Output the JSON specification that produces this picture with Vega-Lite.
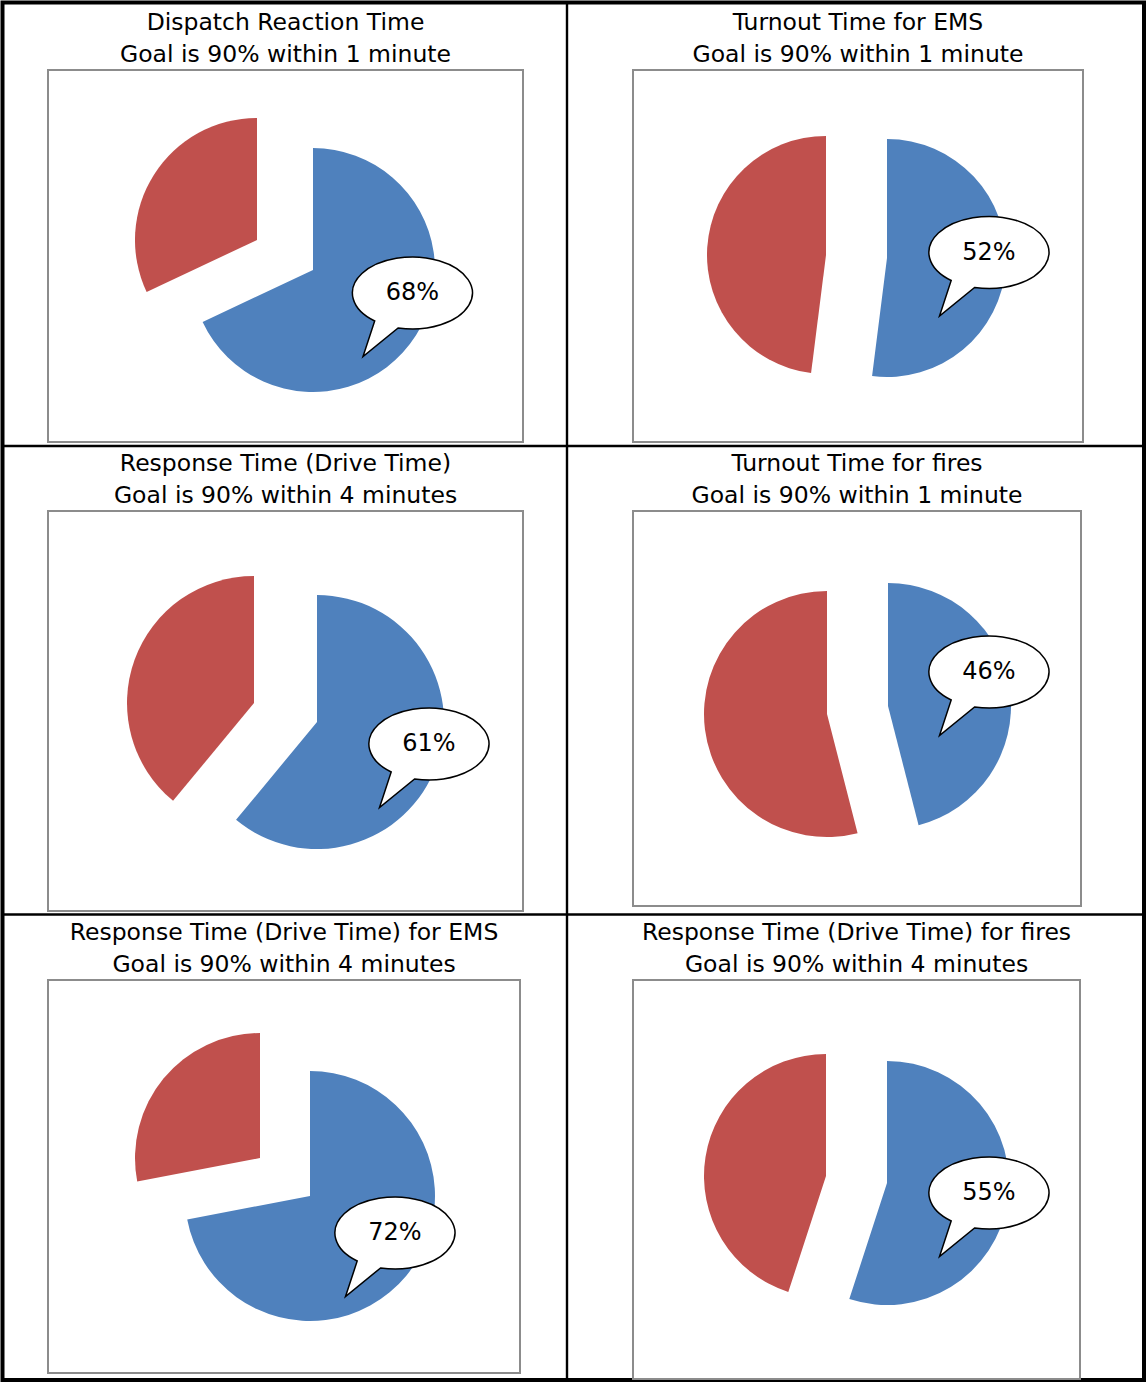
{
  "$schema": "https://vega.github.io/schema/vega-lite/v6.json",
  "padding": 0,
  "background": "white",
  "config": {
    "view": {"stroke": null},
    "title": {"font": "DejaVu Sans", "fontSize": 23.5, "fontWeight": "normal", "color": "black", "anchor": "middle", "frame": "group", "lineHeight": 32, "offset": 3, "baseline": "alphabetic"}
  },
  "datasets": {
    "pies": [
      {"chart": "Dispatch Reaction Time", "status": "Within goal", "share": 0.68},
      {"chart": "Dispatch Reaction Time", "status": "Not within goal", "share": 0.32},
      {"chart": "Turnout Time for EMS", "status": "Within goal", "share": 0.52},
      {"chart": "Turnout Time for EMS", "status": "Not within goal", "share": 0.48},
      {"chart": "Response Time (Drive Time)", "status": "Within goal", "share": 0.61},
      {"chart": "Response Time (Drive Time)", "status": "Not within goal", "share": 0.39},
      {"chart": "Turnout Time for fires", "status": "Within goal", "share": 0.46},
      {"chart": "Turnout Time for fires", "status": "Not within goal", "share": 0.54},
      {"chart": "Response Time (Drive Time) for EMS", "status": "Within goal", "share": 0.72},
      {"chart": "Response Time (Drive Time) for EMS", "status": "Not within goal", "share": 0.28},
      {"chart": "Response Time (Drive Time) for fires", "status": "Within goal", "share": 0.55},
      {"chart": "Response Time (Drive Time) for fires", "status": "Not within goal", "share": 0.45}
    ]
  },
  "bounds": "flush",
  "columns": 2,
  "spacing": {"row": 69, "column": 110},
  "concat": [
    {
      "width": 475, "height": 372,
      "title": {"text": ["Dispatch Reaction Time", "Goal is 90% within 1 minute"], "offset": -65.5},
      "data": {"name": "pies"},
      "transform": [
        {"filter": {"field": "chart", "equal": "Dispatch Reaction Time"}},
        {"stack": "share", "groupby": ["chart"], "sort": [{"field": "status", "order": "descending"}], "as": ["start", "end"]}
      ],
      "layer": [
        {"transform": [{"filter": {"field": "status", "equal": "Within goal"}}],
         "mark": {"type": "rect", "x": -45.5, "x2": 1096, "y": -67.5, "y2": 1310, "fillOpacity": 0, "stroke": "black", "strokeWidth": 4}, "encoding": {}},
        {"transform": [{"filter": {"field": "status", "equal": "Within goal"}}],
         "mark": {"type": "rect", "x": 517.8, "x2": 520.2, "y": -67.5, "y2": 1310, "color": "black"}, "encoding": {}},
        {"transform": [{"filter": {"field": "status", "equal": "Within goal"}}],
         "mark": {"type": "rect", "x": -45.5, "x2": 1096, "y": 374.8, "y2": 377.2, "color": "black"}, "encoding": {}},
        {"transform": [{"filter": {"field": "status", "equal": "Within goal"}}],
         "mark": {"type": "rect", "x": -45.5, "x2": 1096, "y": 843.3, "y2": 845.7, "color": "black"}, "encoding": {}},
        {"transform": [{"filter": {"field": "status", "equal": "Within goal"}}],
         "mark": {"type": "rect", "x": 0, "x2": "width", "y": 0, "y2": "height", "fillOpacity": 0, "stroke": "#8c8c8c", "strokeWidth": 2}, "encoding": {}},
        {"transform": [{"filter": {"field": "status", "equal": "Within goal"}}],
         "mark": {"type": "arc", "radius": 122, "xOffset": 27.5, "yOffset": 14},
         "encoding": {"theta": {"field": "start", "type": "quantitative", "scale": {"domain": [0, 1]}, "stack": null}, "theta2": {"field": "end"},
           "color": {"field": "status", "type": "nominal", "scale": {"domain": ["Within goal", "Not within goal"], "range": ["#4F81BD", "#C0504D"]}, "legend": null}}},
        {"transform": [{"filter": {"field": "status", "equal": "Not within goal"}}],
         "mark": {"type": "arc", "radius": 122, "xOffset": -28.5, "yOffset": -16},
         "encoding": {"theta": {"field": "start", "type": "quantitative", "scale": {"domain": [0, 1]}, "stack": null}, "theta2": {"field": "end"},
           "color": {"field": "status", "type": "nominal", "scale": {"domain": ["Within goal", "Not within goal"], "range": ["#4F81BD", "#C0504D"]}, "legend": null}}},
        {"transform": [{"filter": {"field": "status", "equal": "Within goal"}}],
         "mark": {"type": "point", "shape": "M -0.24 0.582 A 1 0.6 0 1 0 -0.63 0.466 L -0.825 1.06 Z", "size": 14400, "filled": true, "fill": "white", "stroke": "black", "strokeWidth": 1.5, "opacity": 1, "xOffset": 127, "yOffset": 37}, "encoding": {}},
        {"transform": [{"filter": {"field": "status", "equal": "Within goal"}}],
         "mark": {"type": "text", "font": "DejaVu Sans", "fontSize": 24, "align": "center", "baseline": "middle", "color": "black", "xOffset": 127, "yOffset": 37},
         "encoding": {"text": {"field": "share", "type": "quantitative", "format": ".0%"}}}
      ]
    },
    {
      "width": 450, "height": 372,
      "title": {"text": ["Turnout Time for EMS", "Goal is 90% within 1 minute"]},
      "data": {"name": "pies"},
      "transform": [
        {"filter": {"field": "chart", "equal": "Turnout Time for EMS"}},
        {"stack": "share", "groupby": ["chart"], "sort": [{"field": "status", "order": "descending"}], "as": ["start", "end"]}
      ],
      "layer": [
        {"transform": [{"filter": {"field": "status", "equal": "Within goal"}}],
         "mark": {"type": "rect", "x": 0, "x2": "width", "y": 0, "y2": "height", "fillOpacity": 0, "stroke": "#8c8c8c", "strokeWidth": 2}, "encoding": {}},
        {"transform": [{"filter": {"field": "status", "equal": "Within goal"}}],
         "mark": {"type": "arc", "radius": 119, "xOffset": 29, "yOffset": 2},
         "encoding": {"theta": {"field": "start", "type": "quantitative", "scale": {"domain": [0, 1]}, "stack": null}, "theta2": {"field": "end"},
           "color": {"field": "status", "type": "nominal", "scale": {"domain": ["Within goal", "Not within goal"], "range": ["#4F81BD", "#C0504D"]}, "legend": null}}},
        {"transform": [{"filter": {"field": "status", "equal": "Not within goal"}}],
         "mark": {"type": "arc", "radius": 119, "xOffset": -32, "yOffset": -1},
         "encoding": {"theta": {"field": "start", "type": "quantitative", "scale": {"domain": [0, 1]}, "stack": null}, "theta2": {"field": "end"},
           "color": {"field": "status", "type": "nominal", "scale": {"domain": ["Within goal", "Not within goal"], "range": ["#4F81BD", "#C0504D"]}, "legend": null}}},
        {"transform": [{"filter": {"field": "status", "equal": "Within goal"}}],
         "mark": {"type": "point", "shape": "M -0.24 0.582 A 1 0.6 0 1 0 -0.63 0.466 L -0.825 1.06 Z", "size": 14400, "filled": true, "fill": "white", "stroke": "black", "strokeWidth": 1.5, "opacity": 1, "xOffset": 131, "yOffset": -3.5}, "encoding": {}},
        {"transform": [{"filter": {"field": "status", "equal": "Within goal"}}],
         "mark": {"type": "text", "font": "DejaVu Sans", "fontSize": 24, "align": "center", "baseline": "middle", "color": "black", "xOffset": 131, "yOffset": -3.5},
         "encoding": {"text": {"field": "share", "type": "quantitative", "format": ".0%"}}}
      ]
    },
    {
      "width": 475, "height": 400,
      "title": {"text": ["Response Time (Drive Time)", "Goal is 90% within 4 minutes"]},
      "data": {"name": "pies"},
      "transform": [
        {"filter": {"field": "chart", "equal": "Response Time (Drive Time)"}},
        {"stack": "share", "groupby": ["chart"], "sort": [{"field": "status", "order": "descending"}], "as": ["start", "end"]}
      ],
      "layer": [
        {"transform": [{"filter": {"field": "status", "equal": "Within goal"}}],
         "mark": {"type": "rect", "x": 0, "x2": "width", "y": 0, "y2": "height", "fillOpacity": 0, "stroke": "#8c8c8c", "strokeWidth": 2}, "encoding": {}},
        {"transform": [{"filter": {"field": "status", "equal": "Within goal"}}],
         "mark": {"type": "arc", "radius": 127, "xOffset": 31.5, "yOffset": 11},
         "encoding": {"theta": {"field": "start", "type": "quantitative", "scale": {"domain": [0, 1]}, "stack": null}, "theta2": {"field": "end"},
           "color": {"field": "status", "type": "nominal", "scale": {"domain": ["Within goal", "Not within goal"], "range": ["#4F81BD", "#C0504D"]}, "legend": null}}},
        {"transform": [{"filter": {"field": "status", "equal": "Not within goal"}}],
         "mark": {"type": "arc", "radius": 127, "xOffset": -31.5, "yOffset": -8},
         "encoding": {"theta": {"field": "start", "type": "quantitative", "scale": {"domain": [0, 1]}, "stack": null}, "theta2": {"field": "end"},
           "color": {"field": "status", "type": "nominal", "scale": {"domain": ["Within goal", "Not within goal"], "range": ["#4F81BD", "#C0504D"]}, "legend": null}}},
        {"transform": [{"filter": {"field": "status", "equal": "Within goal"}}],
         "mark": {"type": "point", "shape": "M -0.24 0.582 A 1 0.6 0 1 0 -0.63 0.466 L -0.825 1.06 Z", "size": 14400, "filled": true, "fill": "white", "stroke": "black", "strokeWidth": 1.5, "opacity": 1, "xOffset": 143.5, "yOffset": 33}, "encoding": {}},
        {"transform": [{"filter": {"field": "status", "equal": "Within goal"}}],
         "mark": {"type": "text", "font": "DejaVu Sans", "fontSize": 24, "align": "center", "baseline": "middle", "color": "black", "xOffset": 143.5, "yOffset": 33},
         "encoding": {"text": {"field": "share", "type": "quantitative", "format": ".0%"}}}
      ]
    },
    {
      "width": 448, "height": 395,
      "title": {"text": ["Turnout Time for fires", "Goal is 90% within 1 minute"]},
      "data": {"name": "pies"},
      "transform": [
        {"filter": {"field": "chart", "equal": "Turnout Time for fires"}},
        {"stack": "share", "groupby": ["chart"], "sort": [{"field": "status", "order": "descending"}], "as": ["start", "end"]}
      ],
      "layer": [
        {"transform": [{"filter": {"field": "status", "equal": "Within goal"}}],
         "mark": {"type": "rect", "x": 0, "x2": "width", "y": 0, "y2": "height", "fillOpacity": 0, "stroke": "#8c8c8c", "strokeWidth": 2}, "encoding": {}},
        {"transform": [{"filter": {"field": "status", "equal": "Within goal"}}],
         "mark": {"type": "arc", "radius": 123, "xOffset": 31, "yOffset": -2.5},
         "encoding": {"theta": {"field": "start", "type": "quantitative", "scale": {"domain": [0, 1]}, "stack": null}, "theta2": {"field": "end"},
           "color": {"field": "status", "type": "nominal", "scale": {"domain": ["Within goal", "Not within goal"], "range": ["#4F81BD", "#C0504D"]}, "legend": null}}},
        {"transform": [{"filter": {"field": "status", "equal": "Not within goal"}}],
         "mark": {"type": "arc", "radius": 123, "xOffset": -30, "yOffset": 5.5},
         "encoding": {"theta": {"field": "start", "type": "quantitative", "scale": {"domain": [0, 1]}, "stack": null}, "theta2": {"field": "end"},
           "color": {"field": "status", "type": "nominal", "scale": {"domain": ["Within goal", "Not within goal"], "range": ["#4F81BD", "#C0504D"]}, "legend": null}}},
        {"transform": [{"filter": {"field": "status", "equal": "Within goal"}}],
         "mark": {"type": "point", "shape": "M -0.24 0.582 A 1 0.6 0 1 0 -0.63 0.466 L -0.825 1.06 Z", "size": 14400, "filled": true, "fill": "white", "stroke": "black", "strokeWidth": 1.5, "opacity": 1, "xOffset": 132, "yOffset": -36.5}, "encoding": {}},
        {"transform": [{"filter": {"field": "status", "equal": "Within goal"}}],
         "mark": {"type": "text", "font": "DejaVu Sans", "fontSize": 24, "align": "center", "baseline": "middle", "color": "black", "xOffset": 132, "yOffset": -36.5},
         "encoding": {"text": {"field": "share", "type": "quantitative", "format": ".0%"}}}
      ]
    },
    {
      "width": 472, "height": 393,
      "title": {"text": ["Response Time (Drive Time) for EMS", "Goal is 90% within 4 minutes"]},
      "data": {"name": "pies"},
      "transform": [
        {"filter": {"field": "chart", "equal": "Response Time (Drive Time) for EMS"}},
        {"stack": "share", "groupby": ["chart"], "sort": [{"field": "status", "order": "descending"}], "as": ["start", "end"]}
      ],
      "layer": [
        {"transform": [{"filter": {"field": "status", "equal": "Within goal"}}],
         "mark": {"type": "rect", "x": 0, "x2": "width", "y": 0, "y2": "height", "fillOpacity": 0, "stroke": "#8c8c8c", "strokeWidth": 2}, "encoding": {}},
        {"transform": [{"filter": {"field": "status", "equal": "Within goal"}}],
         "mark": {"type": "arc", "radius": 125, "xOffset": 26, "yOffset": 19.5},
         "encoding": {"theta": {"field": "start", "type": "quantitative", "scale": {"domain": [0, 1]}, "stack": null}, "theta2": {"field": "end"},
           "color": {"field": "status", "type": "nominal", "scale": {"domain": ["Within goal", "Not within goal"], "range": ["#4F81BD", "#C0504D"]}, "legend": null}}},
        {"transform": [{"filter": {"field": "status", "equal": "Not within goal"}}],
         "mark": {"type": "arc", "radius": 125, "xOffset": -24, "yOffset": -18.5},
         "encoding": {"theta": {"field": "start", "type": "quantitative", "scale": {"domain": [0, 1]}, "stack": null}, "theta2": {"field": "end"},
           "color": {"field": "status", "type": "nominal", "scale": {"domain": ["Within goal", "Not within goal"], "range": ["#4F81BD", "#C0504D"]}, "legend": null}}},
        {"transform": [{"filter": {"field": "status", "equal": "Within goal"}}],
         "mark": {"type": "point", "shape": "M -0.24 0.582 A 1 0.6 0 1 0 -0.63 0.466 L -0.825 1.06 Z", "size": 14400, "filled": true, "fill": "white", "stroke": "black", "strokeWidth": 1.5, "opacity": 1, "xOffset": 111, "yOffset": 56.5}, "encoding": {}},
        {"transform": [{"filter": {"field": "status", "equal": "Within goal"}}],
         "mark": {"type": "text", "font": "DejaVu Sans", "fontSize": 24, "align": "center", "baseline": "middle", "color": "black", "xOffset": 111, "yOffset": 56.5},
         "encoding": {"text": {"field": "share", "type": "quantitative", "format": ".0%"}}}
      ]
    },
    {
      "width": 447, "height": 399,
      "title": {"text": ["Response Time (Drive Time) for fires", "Goal is 90% within 4 minutes"]},
      "data": {"name": "pies"},
      "transform": [
        {"filter": {"field": "chart", "equal": "Response Time (Drive Time) for fires"}},
        {"stack": "share", "groupby": ["chart"], "sort": [{"field": "status", "order": "descending"}], "as": ["start", "end"]}
      ],
      "layer": [
        {"transform": [{"filter": {"field": "status", "equal": "Within goal"}}],
         "mark": {"type": "rect", "x": 0, "x2": "width", "y": 0, "y2": "height", "fillOpacity": 0, "stroke": "#8c8c8c", "strokeWidth": 2}, "encoding": {}},
        {"transform": [{"filter": {"field": "status", "equal": "Within goal"}}],
         "mark": {"type": "arc", "radius": 122, "xOffset": 30.5, "yOffset": 3.5},
         "encoding": {"theta": {"field": "start", "type": "quantitative", "scale": {"domain": [0, 1]}, "stack": null}, "theta2": {"field": "end"},
           "color": {"field": "status", "type": "nominal", "scale": {"domain": ["Within goal", "Not within goal"], "range": ["#4F81BD", "#C0504D"]}, "legend": null}}},
        {"transform": [{"filter": {"field": "status", "equal": "Not within goal"}}],
         "mark": {"type": "arc", "radius": 122, "xOffset": -30.5, "yOffset": -3.5},
         "encoding": {"theta": {"field": "start", "type": "quantitative", "scale": {"domain": [0, 1]}, "stack": null}, "theta2": {"field": "end"},
           "color": {"field": "status", "type": "nominal", "scale": {"domain": ["Within goal", "Not within goal"], "range": ["#4F81BD", "#C0504D"]}, "legend": null}}},
        {"transform": [{"filter": {"field": "status", "equal": "Within goal"}}],
         "mark": {"type": "point", "shape": "M -0.24 0.582 A 1 0.6 0 1 0 -0.63 0.466 L -0.825 1.06 Z", "size": 14400, "filled": true, "fill": "white", "stroke": "black", "strokeWidth": 1.5, "opacity": 1, "xOffset": 132.5, "yOffset": 13.5}, "encoding": {}},
        {"transform": [{"filter": {"field": "status", "equal": "Within goal"}}],
         "mark": {"type": "text", "font": "DejaVu Sans", "fontSize": 24, "align": "center", "baseline": "middle", "color": "black", "xOffset": 132.5, "yOffset": 13.5},
         "encoding": {"text": {"field": "share", "type": "quantitative", "format": ".0%"}}}
      ]
    }
  ]
}
